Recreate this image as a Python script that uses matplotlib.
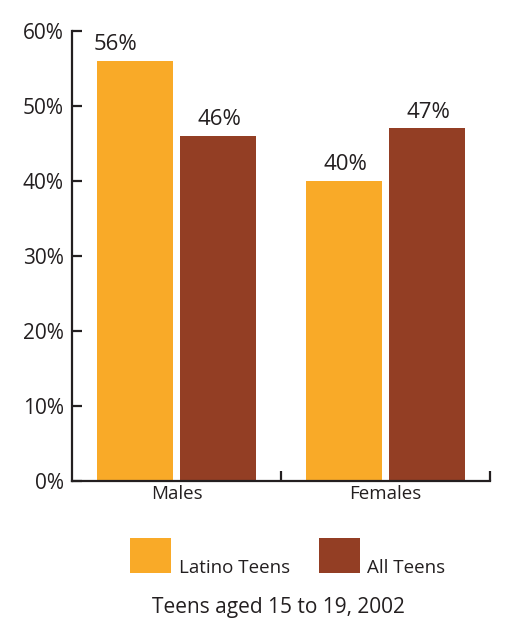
import matplotlib.pyplot as plt
from matplotlib.patches import Rectangle

groups = ["Males", "Females"]
latino = [56, 40]
all_teens = [46, 47]
series_names = ["Latino Teens", "All Teens"]
yticks = [0, 10, 20, 30, 40, 50, 60]

ORANGE = "#F9AA28"
BROWN = "#933E24"
TXT = "#231F20"

plt.rcParams["font.family"] = ["Open Sans", "DejaVu Sans"]

fig = plt.figure(figsize=(5.08, 6.35), dpi=100)
ax = fig.add_axes([0.1417, 0.2425, 0.8229, 0.7087])

centers = [0.5, 1.5]
width = 0.365
off = 0.199
# the 56% label sits left of its bar centre in the original
label_shift = {(0, 0): -14}
for k, (vals, color, sign) in enumerate(((latino, ORANGE, -1), (all_teens, BROWN, 1))):
    xs = [c + sign * off for c in centers]
    bars = ax.bar(xs, vals, width=width, color=color, linewidth=0)
    for i, (b, v) in enumerate(zip(bars, vals)):
        ax.annotate(f"{v}%", (b.get_x() + b.get_width() / 2, v),
                    xytext=(label_shift.get((k, i), 1), 4),
                    textcoords="offset points",
                    ha="center", va="bottom", fontsize=16, color=TXT)

ax.set_xlim(0, 2)
ax.set_ylim(0, 60)
ax.set_yticks(yticks)
ax.set_yticklabels([f"{t}%" for t in yticks])
ax.set_xticks(centers)
ax.set_xticklabels(groups)
ax.set_xticks([1, 2], minor=True)
ax.tick_params(axis="y", direction="in", length=7.5, width=1.6,
               labelsize=15, colors=TXT, pad=6)
ax.tick_params(axis="x", which="major", length=0, labelsize=13.5,
               colors=TXT, pad=3)
ax.tick_params(axis="x", which="minor", direction="in", length=7,
               width=1.6, color=TXT)
for s in ("top", "right"):
    ax.spines[s].set_visible(False)
for s in ("left", "bottom"):
    ax.spines[s].set_linewidth(1.6)
    ax.spines[s].set_color(TXT)

# legend drawn below the axes
W, H = 508, 635
for (x0, name, color, tx) in ((130, series_names[0], ORANGE, 179),
                              (319, series_names[1], BROWN, 367)):
    fig.add_artist(Rectangle((x0 / W, 1 - 573 / H), 41 / W, 35 / H,
                             transform=fig.transFigure, color=color, lw=0))
    fig.text(tx / W, 1 - 577 / H, name, fontsize=13.5, color=TXT,
             ha="left", va="bottom")

fig.text(278 / W, 1 - 607 / H, "Teens aged 15 to 19, 2002", fontsize=15,
         color=TXT, ha="center", va="center")

fig.savefig("out.png", dpi=100)
